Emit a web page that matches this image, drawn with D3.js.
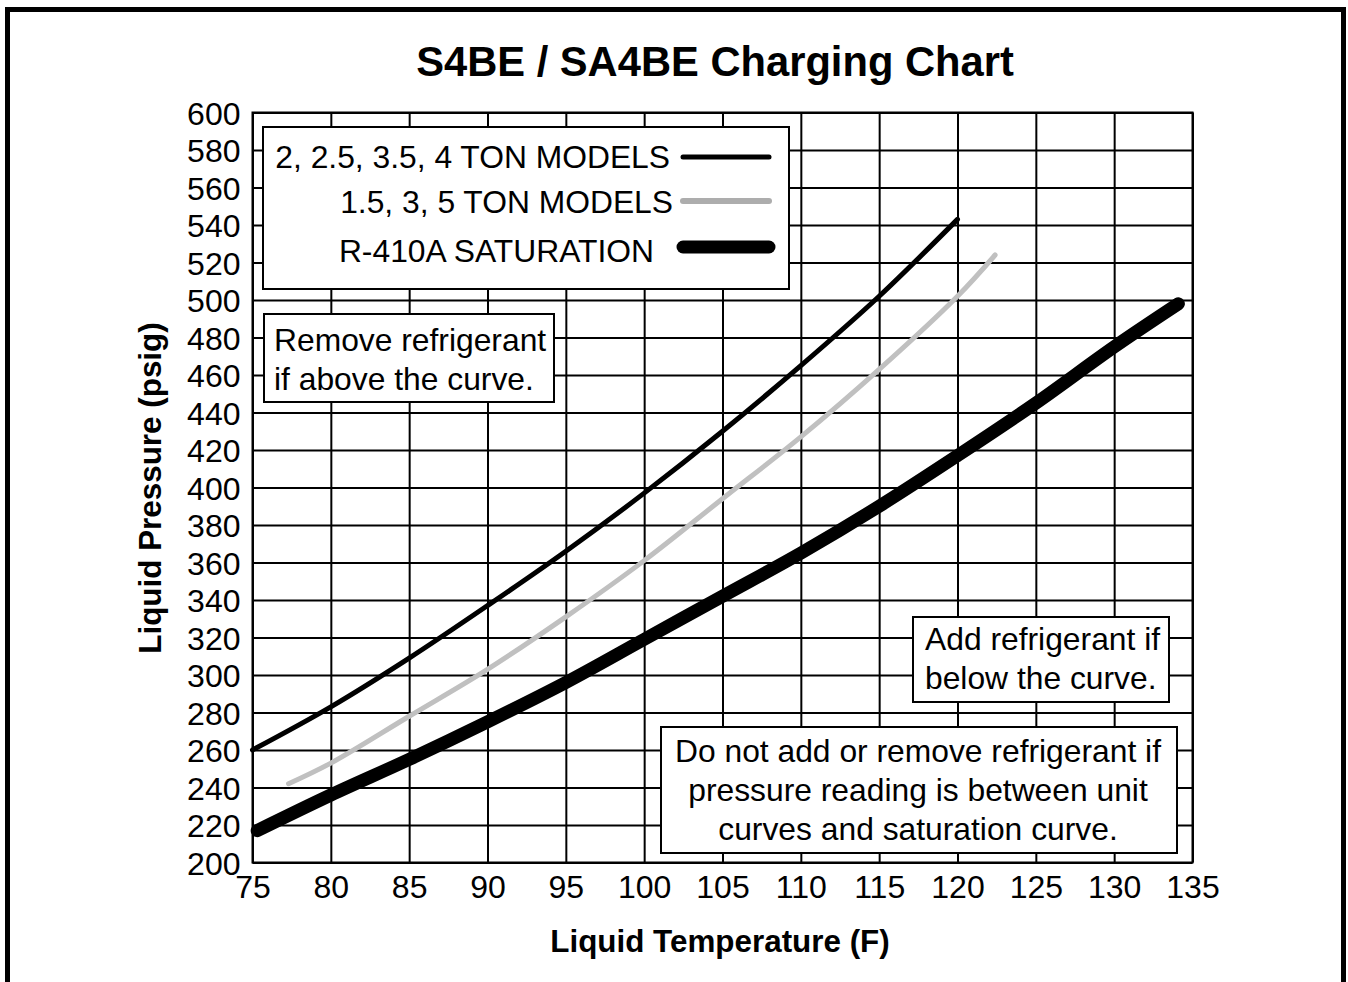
<!DOCTYPE html>
<html>
<head>
<meta charset="utf-8">
<script src="https://cdn.jsdelivr.net/npm/d3@7"></script>
<style>
  html, body { margin: 0; padding: 0; background: #fff; }
  svg { display: block; font-family: "Liberation Sans", Arial, sans-serif; }
</style>
</head>
<body>
<svg id="chart" width="1348" height="982"></svg>
<script>
// values
const xTicks = [75, 80, 85, 90, 95, 100, 105, 110, 115, 120, 125, 130, 135];
const yTicks = [200, 220, 240, 260, 280, 300, 320, 340, 360, 380, 400, 420, 440, 460, 480, 500, 520, 540, 560, 580, 600];

const tempsUnitA = [75, 80, 85, 90, 95, 100, 105, 110, 115, 120];
const pressUnitA = [260, 283, 309, 337, 366, 397, 430, 465, 502, 543];

const tempsUnitB = [77.3, 80, 85, 90, 95, 100, 105, 110, 115, 120, 122.4];
const pressUnitB = [242, 253, 278, 303, 331, 361, 394, 427, 463, 502, 524];

const tempsSat = [75.3, 80, 85, 90, 95, 100, 105, 110, 115, 120, 125, 130, 134.1];
const pressSat = [217, 236, 255, 275, 296, 319, 342, 365, 390, 417, 445, 475, 498];

const legendLabels = ['2, 2.5, 3.5, 4 TON MODELS', '1.5, 3, 5 TON MODELS', 'R-410A SATURATION'];

const svg = d3.select('#chart');

const x = d3.scaleLinear().domain([75, 135]).range([252.5, 1192.5]);
const y = d3.scaleLinear().domain([200, 600]).range([862.5, 112.5]);

// outer frame
svg.append('rect')
  .attr('x', 7.5).attr('y', 9.5)
  .attr('width', 1336).attr('height', 1000)
  .attr('fill', 'none').attr('stroke', '#000').attr('stroke-width', 5);

// title
svg.append('text')
  .attr('x', 715).attr('y', 76)
  .attr('text-anchor', 'middle')
  .attr('font-size', 41.7).attr('font-weight', 'bold')
  .text('S4BE / SA4BE Charging Chart');

// grid
const gx = svg.append('g')
  .attr('transform', `translate(0,${y(200)})`)
  .call(d3.axisBottom(x).tickValues(xTicks).tickSize(-(y(200) - y(600))).tickPadding(13));
const gy = svg.append('g')
  .attr('transform', `translate(${x(75)},0)`)
  .call(d3.axisLeft(y).tickValues(yTicks).tickSize(-(x(135) - x(75))).tickPadding(12));

[gx, gy].forEach(g => {
  g.select('.domain').remove();
  g.selectAll('.tick line').attr('stroke', '#000').attr('stroke-width', 2);
  g.selectAll('.tick text')
    .attr('fill', '#000')
    .attr('font-size', 32)
    .attr('font-family', '"Liberation Sans", Arial, sans-serif');
});
gx.selectAll('.tick text').attr('dy', '0.71em');
gy.selectAll('.tick text').attr('dy', '0.36em');

svg.append('rect')
  .attr('x', x(75)).attr('y', y(600))
  .attr('width', x(135) - x(75)).attr('height', y(200) - y(600))
  .attr('fill', 'none').attr('stroke', '#000').attr('stroke-width', 2);

// axis titles
svg.append('text')
  .attr('x', 720).attr('y', 952)
  .attr('text-anchor', 'middle')
  .attr('font-size', 31.4).attr('font-weight', 'bold')
  .text('Liquid Temperature (F)');

svg.append('text')
  .attr('transform', 'translate(161,488) rotate(-90)')
  .attr('text-anchor', 'middle')
  .attr('font-size', 31.4).attr('font-weight', 'bold')
  .text('Liquid Pressure (psig)');

// curves
const line = d3.line()
  .x(d => x(d[0]))
  .y(d => y(d[1]))
  .curve(d3.curveCatmullRom);

const series = [
  { t: tempsSat, p: pressSat, color: '#000', width: 13 },
  { t: tempsUnitB, p: pressUnitB, color: '#c0c0c0', width: 5 },
  { t: tempsUnitA, p: pressUnitA, color: '#000', width: 5 }
];

series.forEach(s => {
  svg.append('path')
    .datum(d3.zip(s.t, s.p))
    .attr('d', line)
    .attr('fill', 'none')
    .attr('stroke', s.color)
    .attr('stroke-width', s.width)
    .attr('stroke-linecap', 'round')
    .attr('stroke-linejoin', 'round');
});

// boxes with text
function noteBox(bx, by, bw, bh) {
  svg.append('rect')
    .attr('x', bx).attr('y', by)
    .attr('width', bw).attr('height', bh)
    .attr('fill', '#fff').attr('stroke', '#000').attr('stroke-width', 2);
}

const noteSize = 31.8;

// legend
noteBox(263, 127, 526, 162);
const legendY = [157, 202, 251];
const legendTextEnd = [670, 673, 654];
const legendColors = ['#000', '#adadad', '#000'];
const legendWidths = [5, 6, 13];
const legendLineY = [157, 201, 247];
legendLabels.forEach((lab, i) => {
  svg.append('text')
    .attr('x', legendTextEnd[i]).attr('y', legendY[i])
    .attr('dy', '0.36em')
    .attr('text-anchor', 'end')
    .attr('font-size', noteSize)
    .text(lab);
  svg.append('line')
    .attr('x1', 683).attr('x2', 769)
    .attr('y1', legendLineY[i]).attr('y2', legendLineY[i])
    .attr('stroke', legendColors[i])
    .attr('stroke-width', legendWidths[i])
    .attr('stroke-linecap', 'round');
});

noteBox(264, 314, 290, 88);
['Remove refrigerant', 'if above the curve.'].forEach((t, i) => {
  svg.append('text')
    .attr('x', 274).attr('y', 340 + i * 39)
    .attr('dy', '0.36em')
    .attr('font-size', noteSize)
    .text(t);
});

noteBox(913, 617, 256, 85);
['Add refrigerant if', 'below the curve.'].forEach((t, i) => {
  svg.append('text')
    .attr('x', 925).attr('y', 639 + i * 39)
    .attr('dy', '0.36em')
    .attr('font-size', noteSize)
    .text(t);
});

noteBox(661, 727, 516, 126);
['Do not add or remove refrigerant if', 'pressure reading is between unit', 'curves and saturation curve.'].forEach((t, i) => {
  svg.append('text')
    .attr('x', 918).attr('y', 751 + i * 39)
    .attr('dy', '0.36em')
    .attr('text-anchor', 'middle')
    .attr('font-size', noteSize)
    .text(t);
});
</script>
</body>
</html>
